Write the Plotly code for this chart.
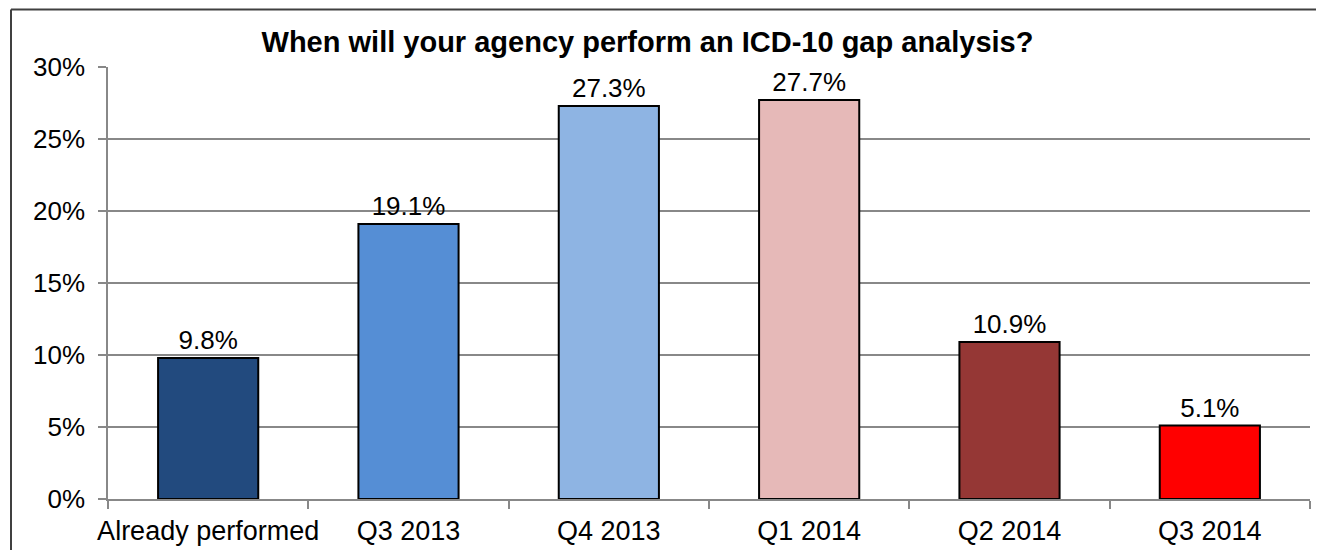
import plotly.graph_objects as go

categories = ["Already performed", "Q3 2013", "Q4 2013", "Q1 2014", "Q2 2014", "Q3 2014"]
values = [0.098, 0.191, 0.273, 0.277, 0.109, 0.051]
colors = ["#224A7E", "#558ED5", "#8EB4E3", "#E6B9B8", "#953735", "#FF0000"]
y_ticks = [0, 0.05, 0.10, 0.15, 0.20, 0.25, 0.30]

W, H = 1321, 550
ml, mr, mt, mb = 108, 11, 67, 51
FONT = "Liberation Sans, Arial, sans-serif"

fig = go.Figure(go.Bar(
    x=categories, y=values,
    marker=dict(color=colors, line=dict(color="#000000", width=2)),
    width=0.5,
    text=[f"{v*100:.1f}%" for v in values],
    textposition="outside",
    textfont=dict(family=FONT, size=26, color="#000"),
    cliponaxis=False,
    hoverinfo="skip",
))

pw = W - ml - mr
ph = H - mt - mb
fx0 = (11 - ml) / pw
fx1 = (1316 - ml) / pw
fy1 = (H - mb - 9.5) / ph
fy0 = -(H - (H - mb)) / ph
# outer chart frame (top and left edges visible; right/bottom are cropped away)
fig.add_shape(type="line", xref="paper", yref="paper",
              x0=fx0, x1=fx1, y0=fy1, y1=fy1,
              line=dict(color="#404040", width=2), layer="below")
fig.add_shape(type="line", xref="paper", yref="paper",
              x0=fx0, x1=fx0, y0=fy1, y1=fy0,
              line=dict(color="#404040", width=2), layer="below")

fig.update_layout(
    width=W, height=H,
    margin=dict(l=ml, r=mr, t=mt, b=mb),
    paper_bgcolor="white", plot_bgcolor="white",
    title=dict(text="<b>When will your agency perform an ICD-10 gap analysis?</b>",
               x=647.5 / W, xanchor="center", xref="container",
               y=1 - 42 / H, yanchor="middle",
               font=dict(family=FONT, size=29, color="#000")),
    font=dict(family=FONT, size=27, color="#000"),
    showlegend=False,
)
fig.update_xaxes(
    showline=True, linecolor="#888888", linewidth=1.5,
    ticks="outside", tickson="boundaries", ticklen=8, tickcolor="#888888", tickwidth=1.5,
    showgrid=False, automargin=False, tickangle=0, ticklabelstandoff=7,
    tickfont=dict(family=FONT, size=27, color="#000"),
)
fig.update_yaxes(
    range=[0, 0.30], tickvals=y_ticks, tickformat=".0%",
    showline=True, linecolor="#888888", linewidth=1.5,
    ticks="outside", ticklen=8, tickcolor="#888888", tickwidth=1.5,
    showgrid=True, gridcolor="#888888", gridwidth=1.5,
    zeroline=False, automargin=False, ticklabelstandoff=8,
    tickfont=dict(family=FONT, size=26, color="#000"),
)

fig.write_html("out.html", config={"displayModeBar": False},
               post_script="document.documentElement.style.overflow='hidden';document.body.style.margin='0';document.body.style.overflow='hidden';")
